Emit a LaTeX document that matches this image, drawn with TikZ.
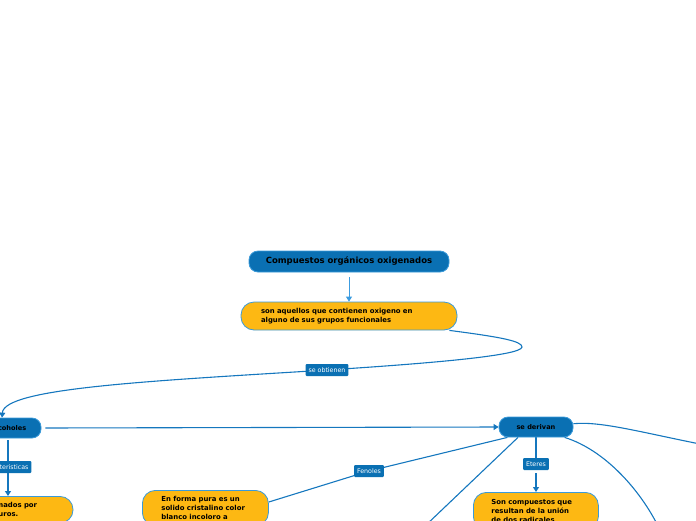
\documentclass[tikz,border=0pt]{standalone}
\usepackage{fontspec}
\setmainfont{DejaVu Sans}
\usetikzlibrary{arrows.meta,backgrounds,calc}
\definecolor{nodeblue}{HTML}{0A70B3}
\definecolor{edgeblue}{HTML}{3A9AD9}
\definecolor{lineblue}{HTML}{1577BE}
\definecolor{lightline}{HTML}{3C9CE0}
\definecolor{nodeyellow}{HTML}{FDB813}
\tikzset{
  bluebox/.style={draw=edgeblue, fill=nodeblue, rounded corners=9pt, line width=0.8pt,
    font=\bfseries\fontsize{8.5}{10}\selectfont, text=black, inner sep=0pt},
  yellowbox/.style={draw=edgeblue, fill=nodeyellow, rounded corners=13pt, line width=0.8pt,
    font=\bfseries\fontsize{6.9}{9}\selectfont, text=black, align=left, inner xsep=20pt, inner ysep=6pt},
  lab/.style={fill=nodeblue, text=white, font=\fontsize{6.3}{7}\selectfont, inner xsep=3pt,
    inner ysep=0pt, minimum height=12pt, rounded corners=1pt},
  conn/.style={draw=lineblue, line width=1.1pt},
  arr/.style={-{Triangle[width=6pt,length=5pt]}}
}
\begin{document}
\begin{tikzpicture}[x=1pt,y=-1pt]
\useasboundingbox (0,0) rectangle (696,520);
\clip (0,0) rectangle (696,520);
% nodes
\node[bluebox, minimum width=200pt, minimum height=21pt] (title) at (349,261.5) {Compuestos orgánicos oxigenados};
\node[yellowbox, text width=176pt, minimum height=28pt, inner ysep=0pt] (yb) at (349,316)
  {son aquellos que contienen oxigeno en\\alguno de sus grupos funcionales};
\node[bluebox, font=\bfseries\fontsize{6.6}{8}\selectfont, minimum width=65pt, minimum height=20pt] (alc) at (8.5,428) {Alcoholes};
\node[bluebox, font=\bfseries\fontsize{6.6}{8}\selectfont, minimum width=74pt, minimum height=20pt] (der) at (536,427) {se derivan};
\node[lab] (obt) at (327,370) {se obtienen};
\node[lab] (car) at (5,467) {Caracteristicas};
\node[lab] (fen) at (369,471) {Fenoles};
\node[lab] (ete) at (536,464) {Eteres};
\node[yellowbox, anchor=north, text width=92pt] (box3) at (7,496)
  {Están formados por\\hidrocarburos.};
\node[yellowbox, anchor=north west, text width=88pt, inner xsep=19pt] (box4) at (142,490)
  {En forma pura es un\\solido cristalino color\\blanco incoloro a};
\node[yellowbox, anchor=north west, text width=89pt, inner xsep=18pt, inner ysep=7pt] (box5) at (473,492)
  {Son compuestos que\\resultan de la unión\\de dos radicales};
\coordinate (off1) at (425,526);
\coordinate (off2) at (658,526);
\coordinate (off3) at (700,444);
% connectors
\begin{scope}[on background layer]
\draw[conn, draw=lightline, line width=0.9pt, arr, shorten <=5pt] (title.south) -- (yb.north);
\draw[conn, arr] ($(yb.south east)+(-8,0)$) .. controls (500,337) and (522,341) .. (522,347)
   .. controls (522,356) and (420,364) .. (obt.center)
   .. controls (150,381) and (4,388) .. (alc.north -| 2,0);
\draw[conn, arr, shorten <=4pt] (alc.east) -- (der.west);
\draw[conn, arr, shorten <=2pt] (alc.south -| 8,0) -- (8,467) -- (box3.north -| 8,0);
\draw[conn] (der.200) -- (fen.center) -- ($(box4.north east)+(0,12)$);
\draw[conn, arr, shorten <=3pt] (der.south) -- (ete) -- (box5.north -| ete.center);
\draw[conn] (der.210) -- (off1);
\draw[conn] (der.-20) .. controls (605,450) and (640,490) .. (off2);
\draw[conn] (der.5) .. controls (600,421) and (640,432) .. (off3);
\end{scope}
\end{tikzpicture}
\end{document}
